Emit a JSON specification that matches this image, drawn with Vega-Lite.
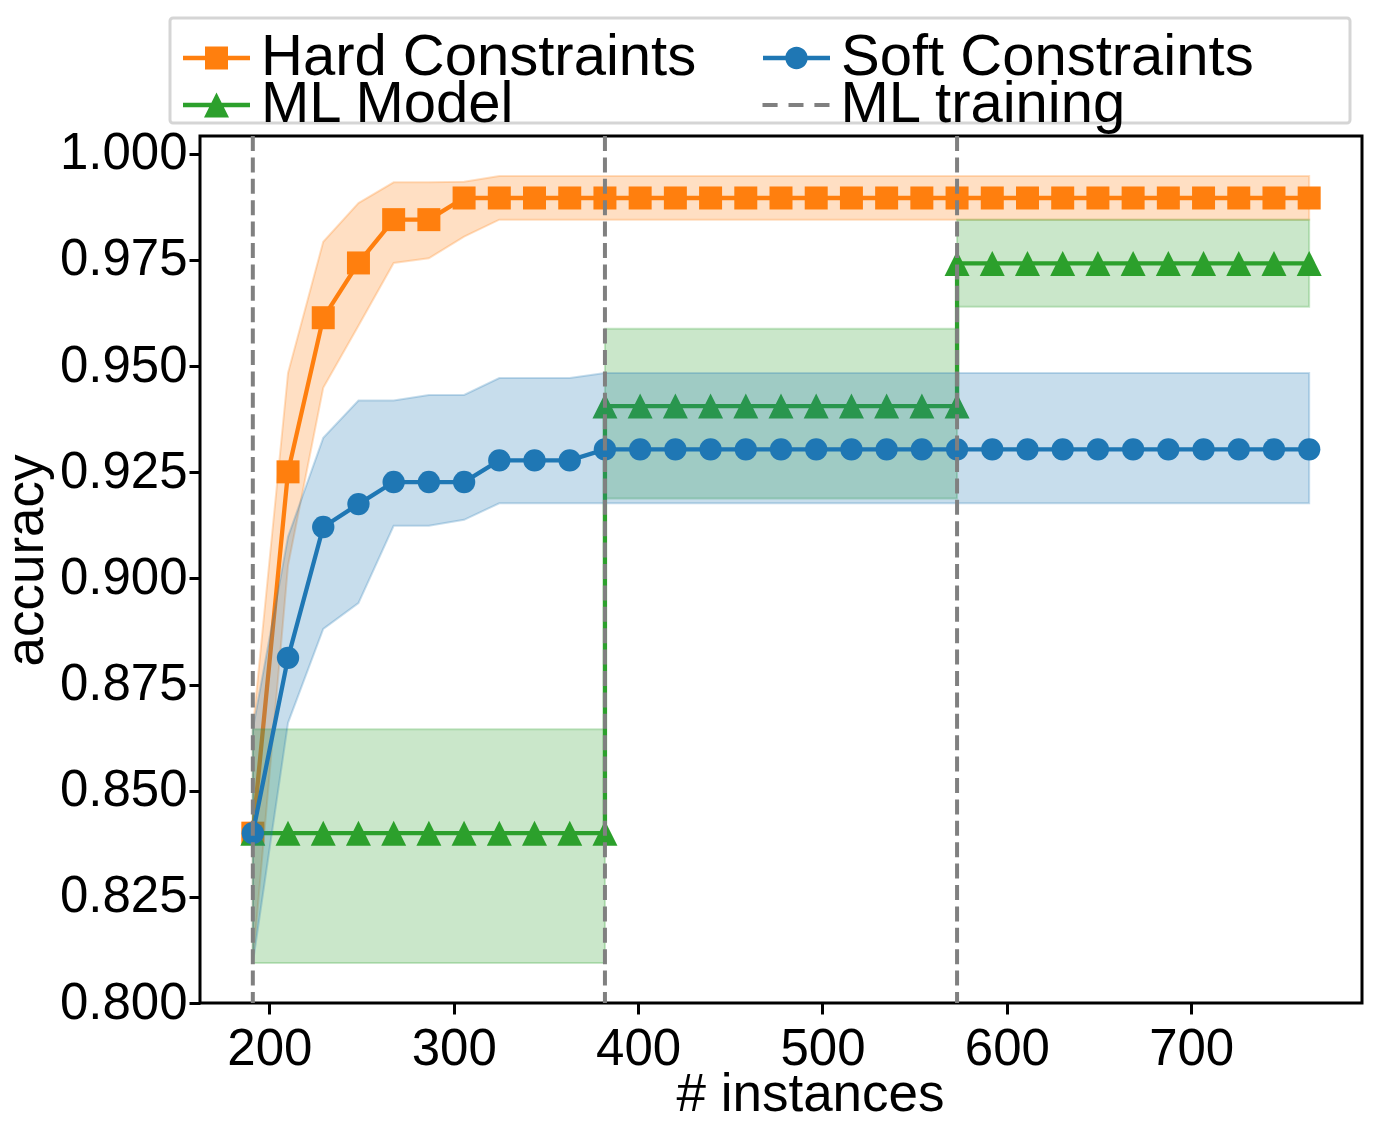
{
  "$schema": "https://vega.github.io/schema/vega-lite/v6.json",
  "width": 1162,
  "height": 867,
  "autosize": {"type": "none"},
  "padding": {"left": 200, "top": 136, "right": 18, "bottom": 125},
  "background": "white",
  "resolve": {"scale": {"color": "independent", "shape": "independent"}},
  "config": {
    "view": {"stroke": "black", "strokeWidth": 3},
    "font": "Liberation Sans",
    "axis": {
      "grid": false, "domain": false, "ticks": true, "tickColor": "black", "tickWidth": 3, "tickSize": 11,
      "labelFont": "Liberation Sans", "labelFontSize": 51, "labelColor": "black", "labelFlush": false, "labelOverlap": false,
      "titleFont": "Liberation Sans", "titleFontSize": 53, "titleColor": "black", "titleFontWeight": "normal"
    },
    "legend": {
      "labelFont": "Liberation Sans", "labelFontSize": 58, "labelColor": "black", "labelLimit": 2000,
      "symbolSize": 1600, "symbolStrokeWidth": 0, "symbolOpacity": 1, "symbolOffset": 6.5, "labelOffset": 15.5,
      "rowPadding": 0
    }
  },
  "datasets": {
    "hard": [
      {"x":191.0,"y":0.84,"lo":0.8094,"hi":0.8645},
      {"x":210.1,"y":0.9251,"lo":0.903,"hi":0.9484},
      {"x":229.2,"y":0.9614,"lo":0.9449,"hi":0.9793},
      {"x":248.3,"y":0.9743,"lo":0.9595,"hi":0.9884},
      {"x":267.4,"y":0.9845,"lo":0.9743,"hi":0.9933},
      {"x":286.5,"y":0.9845,"lo":0.9754,"hi":0.9933},
      {"x":305.6,"y":0.9896,"lo":0.9805,"hi":0.9934},
      {"x":324.7,"y":0.9896,"lo":0.9845,"hi":0.9948},
      {"x":343.8,"y":0.9896,"lo":0.9845,"hi":0.9948},
      {"x":362.9,"y":0.9896,"lo":0.9845,"hi":0.9948},
      {"x":382.0,"y":0.9896,"lo":0.9845,"hi":0.9948},
      {"x":401.1,"y":0.9896,"lo":0.9845,"hi":0.9948},
      {"x":420.2,"y":0.9896,"lo":0.9845,"hi":0.9948},
      {"x":439.3,"y":0.9896,"lo":0.9845,"hi":0.9948},
      {"x":458.4,"y":0.9896,"lo":0.9845,"hi":0.9948},
      {"x":477.5,"y":0.9896,"lo":0.9845,"hi":0.9948},
      {"x":496.6,"y":0.9896,"lo":0.9845,"hi":0.9948},
      {"x":515.7,"y":0.9896,"lo":0.9845,"hi":0.9948},
      {"x":534.8,"y":0.9896,"lo":0.9845,"hi":0.9948},
      {"x":553.9,"y":0.9896,"lo":0.9845,"hi":0.9948},
      {"x":573.0,"y":0.9896,"lo":0.9845,"hi":0.9948},
      {"x":592.1,"y":0.9896,"lo":0.9845,"hi":0.9948},
      {"x":611.2,"y":0.9896,"lo":0.9845,"hi":0.9948},
      {"x":630.3,"y":0.9896,"lo":0.9845,"hi":0.9948},
      {"x":649.4,"y":0.9896,"lo":0.9845,"hi":0.9948},
      {"x":668.5,"y":0.9896,"lo":0.9845,"hi":0.9948},
      {"x":687.6,"y":0.9896,"lo":0.9845,"hi":0.9948},
      {"x":706.7,"y":0.9896,"lo":0.9845,"hi":0.9948},
      {"x":725.8,"y":0.9896,"lo":0.9845,"hi":0.9948},
      {"x":744.9,"y":0.9896,"lo":0.9845,"hi":0.9948},
      {"x":764.0,"y":0.9896,"lo":0.9845,"hi":0.9948}
    ],
    "soft": [
      {"x":191.0,"y":0.84,"lo":0.8094,"hi":0.8645},
      {"x":210.1,"y":0.8813,"lo":0.866,"hi":0.9098},
      {"x":229.2,"y":0.9121,"lo":0.8881,"hi":0.9331},
      {"x":248.3,"y":0.9175,"lo":0.8942,"hi":0.9419},
      {"x":267.4,"y":0.9227,"lo":0.9124,"hi":0.9419},
      {"x":286.5,"y":0.9227,"lo":0.9124,"hi":0.9432},
      {"x":305.6,"y":0.9227,"lo":0.9138,"hi":0.9432},
      {"x":324.7,"y":0.9278,"lo":0.9177,"hi":0.9472},
      {"x":343.8,"y":0.9278,"lo":0.9177,"hi":0.9472},
      {"x":362.9,"y":0.9278,"lo":0.9177,"hi":0.9472},
      {"x":382.0,"y":0.9304,"lo":0.9177,"hi":0.9484},
      {"x":401.1,"y":0.9304,"lo":0.9177,"hi":0.9484},
      {"x":420.2,"y":0.9304,"lo":0.9177,"hi":0.9484},
      {"x":439.3,"y":0.9304,"lo":0.9177,"hi":0.9484},
      {"x":458.4,"y":0.9304,"lo":0.9177,"hi":0.9484},
      {"x":477.5,"y":0.9304,"lo":0.9177,"hi":0.9484},
      {"x":496.6,"y":0.9304,"lo":0.9177,"hi":0.9484},
      {"x":515.7,"y":0.9304,"lo":0.9177,"hi":0.9484},
      {"x":534.8,"y":0.9304,"lo":0.9177,"hi":0.9484},
      {"x":553.9,"y":0.9304,"lo":0.9177,"hi":0.9484},
      {"x":573.0,"y":0.9304,"lo":0.9177,"hi":0.9484},
      {"x":592.1,"y":0.9304,"lo":0.9177,"hi":0.9484},
      {"x":611.2,"y":0.9304,"lo":0.9177,"hi":0.9484},
      {"x":630.3,"y":0.9304,"lo":0.9177,"hi":0.9484},
      {"x":649.4,"y":0.9304,"lo":0.9177,"hi":0.9484},
      {"x":668.5,"y":0.9304,"lo":0.9177,"hi":0.9484},
      {"x":687.6,"y":0.9304,"lo":0.9177,"hi":0.9484},
      {"x":706.7,"y":0.9304,"lo":0.9177,"hi":0.9484},
      {"x":725.8,"y":0.9304,"lo":0.9177,"hi":0.9484},
      {"x":744.9,"y":0.9304,"lo":0.9177,"hi":0.9484},
      {"x":764.0,"y":0.9304,"lo":0.9177,"hi":0.9484}
    ],
    "ml": [
      {"idx":0,"seg":1,"x":191.0,"y":0.84,"lo":0.8094,"hi":0.8645},
      {"idx":1,"seg":1,"x":210.1,"y":0.84,"lo":0.8094,"hi":0.8645},
      {"idx":2,"seg":1,"x":229.2,"y":0.84,"lo":0.8094,"hi":0.8645},
      {"idx":3,"seg":1,"x":248.3,"y":0.84,"lo":0.8094,"hi":0.8645},
      {"idx":4,"seg":1,"x":267.4,"y":0.84,"lo":0.8094,"hi":0.8645},
      {"idx":5,"seg":1,"x":286.5,"y":0.84,"lo":0.8094,"hi":0.8645},
      {"idx":6,"seg":1,"x":305.6,"y":0.84,"lo":0.8094,"hi":0.8645},
      {"idx":7,"seg":1,"x":324.7,"y":0.84,"lo":0.8094,"hi":0.8645},
      {"idx":8,"seg":1,"x":343.8,"y":0.84,"lo":0.8094,"hi":0.8645},
      {"idx":9,"seg":1,"x":362.9,"y":0.84,"lo":0.8094,"hi":0.8645},
      {"idx":10,"seg":1,"x":382.0,"y":0.84,"lo":0.8094,"hi":0.8645},
      {"idx":11,"seg":2,"x":382.0,"y":0.9406,"lo":0.9188,"hi":0.9588},
      {"idx":12,"seg":2,"x":401.1,"y":0.9406,"lo":0.9188,"hi":0.9588},
      {"idx":13,"seg":2,"x":420.2,"y":0.9406,"lo":0.9188,"hi":0.9588},
      {"idx":14,"seg":2,"x":439.3,"y":0.9406,"lo":0.9188,"hi":0.9588},
      {"idx":15,"seg":2,"x":458.4,"y":0.9406,"lo":0.9188,"hi":0.9588},
      {"idx":16,"seg":2,"x":477.5,"y":0.9406,"lo":0.9188,"hi":0.9588},
      {"idx":17,"seg":2,"x":496.6,"y":0.9406,"lo":0.9188,"hi":0.9588},
      {"idx":18,"seg":2,"x":515.7,"y":0.9406,"lo":0.9188,"hi":0.9588},
      {"idx":19,"seg":2,"x":534.8,"y":0.9406,"lo":0.9188,"hi":0.9588},
      {"idx":20,"seg":2,"x":553.9,"y":0.9406,"lo":0.9188,"hi":0.9588},
      {"idx":21,"seg":2,"x":573.0,"y":0.9406,"lo":0.9188,"hi":0.9588},
      {"idx":22,"seg":3,"x":573.0,"y":0.9742,"lo":0.964,"hi":0.9845},
      {"idx":23,"seg":3,"x":592.1,"y":0.9742,"lo":0.964,"hi":0.9845},
      {"idx":24,"seg":3,"x":611.2,"y":0.9742,"lo":0.964,"hi":0.9845},
      {"idx":25,"seg":3,"x":630.3,"y":0.9742,"lo":0.964,"hi":0.9845},
      {"idx":26,"seg":3,"x":649.4,"y":0.9742,"lo":0.964,"hi":0.9845},
      {"idx":27,"seg":3,"x":668.5,"y":0.9742,"lo":0.964,"hi":0.9845},
      {"idx":28,"seg":3,"x":687.6,"y":0.9742,"lo":0.964,"hi":0.9845},
      {"idx":29,"seg":3,"x":706.7,"y":0.9742,"lo":0.964,"hi":0.9845},
      {"idx":30,"seg":3,"x":725.8,"y":0.9742,"lo":0.964,"hi":0.9845},
      {"idx":31,"seg":3,"x":744.9,"y":0.9742,"lo":0.964,"hi":0.9845},
      {"idx":32,"seg":3,"x":764.0,"y":0.9742,"lo":0.964,"hi":0.9845}
    ],
    "train": [{"x":191.0},{"x":382.0},{"x":573.0}],
    "legendA": [
      {"name":"Hard Constraints","x":1000,"y":0.9},
      {"name":"Soft Constraints","x":1000,"y":0.9}
    ],
    "legendB": [
      {"name":"ML Model","x":1000,"y":0.9},
      {"name":"ML training","x":1000,"y":0.9}
    ]
  },
  "layer": [
    {
      "data": {"name": "hard"},
      "mark": {"type": "area", "fill": "#ff7f0e", "fillOpacity": 0.25, "stroke": "#ff7f0e", "strokeOpacity": 0.25, "strokeWidth": 2},
      "encoding": {
        "x": {"field": "x", "type": "quantitative", "title": "# instances", "scale": {"domain": [162.35, 792.65], "nice": false, "zero": false},
          "axis": {"title": "# instances", "values": [200,300,400,500,600,700], "format": "d", "labelPadding": 10, "titleX": 610, "titleY": 107, "titleBaseline": "alphabetic", "titleAlign": "center"}},
        "y": {"field": "lo", "type": "quantitative", "title": "accuracy", "scale": {"domain": [0.8, 1.0042], "nice": false, "zero": false},
          "axis": {"title": "accuracy", "values": [0.8,0.825,0.85,0.875,0.9,0.925,0.95,0.975,1.0], "format": ".3f", "labelPadding": 2, "titleX": -158, "titleY": 424, "titleAngle": -90, "titleBaseline": "alphabetic", "titleAlign": "center"}},
        "y2": {"field": "hi"}
      }
    },
    {
      "data": {"name": "hard"},
      "mark": {"type": "line", "color": "#ff7f0e", "strokeWidth": 4.3},
      "encoding": {
        "x": {"field": "x", "type": "quantitative", "title": "# instances", "scale": {"domain": [162.35, 792.65], "nice": false, "zero": false},
          "axis": {"title": "# instances", "values": [200,300,400,500,600,700], "format": "d", "labelPadding": 10, "titleX": 610, "titleY": 107, "titleBaseline": "alphabetic", "titleAlign": "center"}},
        "y": {"field": "y", "type": "quantitative", "title": "accuracy", "scale": {"domain": [0.8, 1.0042], "nice": false, "zero": false},
          "axis": {"title": "accuracy", "values": [0.8,0.825,0.85,0.875,0.9,0.925,0.95,0.975,1.0], "format": ".3f", "labelPadding": 2, "titleX": -158, "titleY": 424, "titleAngle": -90, "titleBaseline": "alphabetic", "titleAlign": "center"}}
      }
    },
    {
      "data": {"name": "hard"},
      "mark": {"type": "point", "shape": "square", "filled": true, "size": 529, "color": "#ff7f0e", "opacity": 1, "strokeWidth": 0},
      "encoding": {
        "x": {"field": "x", "type": "quantitative", "title": "# instances", "scale": {"domain": [162.35, 792.65], "nice": false, "zero": false},
          "axis": {"title": "# instances", "values": [200,300,400,500,600,700], "format": "d", "labelPadding": 10, "titleX": 610, "titleY": 107, "titleBaseline": "alphabetic", "titleAlign": "center"}},
        "y": {"field": "y", "type": "quantitative", "title": "accuracy", "scale": {"domain": [0.8, 1.0042], "nice": false, "zero": false},
          "axis": {"title": "accuracy", "values": [0.8,0.825,0.85,0.875,0.9,0.925,0.95,0.975,1.0], "format": ".3f", "labelPadding": 2, "titleX": -158, "titleY": 424, "titleAngle": -90, "titleBaseline": "alphabetic", "titleAlign": "center"}}
      }
    },
    {
      "data": {"name": "ml"},
      "mark": {"type": "area", "fill": "#2ca02c", "fillOpacity": 0.25, "stroke": "#2ca02c", "strokeOpacity": 0.25, "strokeWidth": 2},
      "encoding": {
        "x": {"field": "x", "type": "quantitative", "title": "# instances", "scale": {"domain": [162.35, 792.65], "nice": false, "zero": false},
          "axis": {"title": "# instances", "values": [200,300,400,500,600,700], "format": "d", "labelPadding": 10, "titleX": 610, "titleY": 107, "titleBaseline": "alphabetic", "titleAlign": "center"}},
        "y": {"field": "lo", "type": "quantitative", "title": "accuracy", "scale": {"domain": [0.8, 1.0042], "nice": false, "zero": false},
          "axis": {"title": "accuracy", "values": [0.8,0.825,0.85,0.875,0.9,0.925,0.95,0.975,1.0], "format": ".3f", "labelPadding": 2, "titleX": -158, "titleY": 424, "titleAngle": -90, "titleBaseline": "alphabetic", "titleAlign": "center"}},
        "y2": {"field": "hi"},
        "detail": {"field": "seg", "type": "nominal"}
      }
    },
    {
      "data": {"name": "ml"},
      "mark": {"type": "line", "color": "#2ca02c", "strokeWidth": 4.3},
      "encoding": {
        "x": {"field": "x", "type": "quantitative", "title": "# instances", "scale": {"domain": [162.35, 792.65], "nice": false, "zero": false},
          "axis": {"title": "# instances", "values": [200,300,400,500,600,700], "format": "d", "labelPadding": 10, "titleX": 610, "titleY": 107, "titleBaseline": "alphabetic", "titleAlign": "center"}},
        "y": {"field": "y", "type": "quantitative", "title": "accuracy", "scale": {"domain": [0.8, 1.0042], "nice": false, "zero": false},
          "axis": {"title": "accuracy", "values": [0.8,0.825,0.85,0.875,0.9,0.925,0.95,0.975,1.0], "format": ".3f", "labelPadding": 2, "titleX": -158, "titleY": 424, "titleAngle": -90, "titleBaseline": "alphabetic", "titleAlign": "center"}},
        "order": {"field": "idx", "type": "quantitative"}
      }
    },
    {
      "data": {"name": "ml"},
      "mark": {"type": "point", "shape": "M0,-1L1,1L-1,1Z", "filled": true, "size": 625, "color": "#2ca02c", "opacity": 1, "strokeWidth": 0},
      "encoding": {
        "x": {"field": "x", "type": "quantitative", "title": "# instances", "scale": {"domain": [162.35, 792.65], "nice": false, "zero": false},
          "axis": {"title": "# instances", "values": [200,300,400,500,600,700], "format": "d", "labelPadding": 10, "titleX": 610, "titleY": 107, "titleBaseline": "alphabetic", "titleAlign": "center"}},
        "y": {"field": "y", "type": "quantitative", "title": "accuracy", "scale": {"domain": [0.8, 1.0042], "nice": false, "zero": false},
          "axis": {"title": "accuracy", "values": [0.8,0.825,0.85,0.875,0.9,0.925,0.95,0.975,1.0], "format": ".3f", "labelPadding": 2, "titleX": -158, "titleY": 424, "titleAngle": -90, "titleBaseline": "alphabetic", "titleAlign": "center"}}
      }
    },
    {
      "data": {"name": "soft"},
      "mark": {"type": "area", "fill": "#1f77b4", "fillOpacity": 0.25, "stroke": "#1f77b4", "strokeOpacity": 0.25, "strokeWidth": 2},
      "encoding": {
        "x": {"field": "x", "type": "quantitative", "title": "# instances", "scale": {"domain": [162.35, 792.65], "nice": false, "zero": false},
          "axis": {"title": "# instances", "values": [200,300,400,500,600,700], "format": "d", "labelPadding": 10, "titleX": 610, "titleY": 107, "titleBaseline": "alphabetic", "titleAlign": "center"}},
        "y": {"field": "lo", "type": "quantitative", "title": "accuracy", "scale": {"domain": [0.8, 1.0042], "nice": false, "zero": false},
          "axis": {"title": "accuracy", "values": [0.8,0.825,0.85,0.875,0.9,0.925,0.95,0.975,1.0], "format": ".3f", "labelPadding": 2, "titleX": -158, "titleY": 424, "titleAngle": -90, "titleBaseline": "alphabetic", "titleAlign": "center"}},
        "y2": {"field": "hi"}
      }
    },
    {
      "data": {"name": "soft"},
      "mark": {"type": "line", "color": "#1f77b4", "strokeWidth": 4.3},
      "encoding": {
        "x": {"field": "x", "type": "quantitative", "title": "# instances", "scale": {"domain": [162.35, 792.65], "nice": false, "zero": false},
          "axis": {"title": "# instances", "values": [200,300,400,500,600,700], "format": "d", "labelPadding": 10, "titleX": 610, "titleY": 107, "titleBaseline": "alphabetic", "titleAlign": "center"}},
        "y": {"field": "y", "type": "quantitative", "title": "accuracy", "scale": {"domain": [0.8, 1.0042], "nice": false, "zero": false},
          "axis": {"title": "accuracy", "values": [0.8,0.825,0.85,0.875,0.9,0.925,0.95,0.975,1.0], "format": ".3f", "labelPadding": 2, "titleX": -158, "titleY": 424, "titleAngle": -90, "titleBaseline": "alphabetic", "titleAlign": "center"}}
      }
    },
    {
      "data": {"name": "soft"},
      "mark": {"type": "point", "shape": "circle", "filled": true, "size": 500, "color": "#1f77b4", "opacity": 1, "strokeWidth": 0},
      "encoding": {
        "x": {"field": "x", "type": "quantitative", "title": "# instances", "scale": {"domain": [162.35, 792.65], "nice": false, "zero": false},
          "axis": {"title": "# instances", "values": [200,300,400,500,600,700], "format": "d", "labelPadding": 10, "titleX": 610, "titleY": 107, "titleBaseline": "alphabetic", "titleAlign": "center"}},
        "y": {"field": "y", "type": "quantitative", "title": "accuracy", "scale": {"domain": [0.8, 1.0042], "nice": false, "zero": false},
          "axis": {"title": "accuracy", "values": [0.8,0.825,0.85,0.875,0.9,0.925,0.95,0.975,1.0], "format": ".3f", "labelPadding": 2, "titleX": -158, "titleY": 424, "titleAngle": -90, "titleBaseline": "alphabetic", "titleAlign": "center"}}
      }
    },
    {
      "data": {"name": "train"},
      "mark": {"type": "rule", "color": "#808080", "strokeWidth": 4, "strokeDash": [15, 6.4]},
      "encoding": {
        "x": {"field": "x", "type": "quantitative", "title": "# instances", "scale": {"domain": [162.35, 792.65], "nice": false, "zero": false},
          "axis": {"title": "# instances", "values": [200,300,400,500,600,700], "format": "d", "labelPadding": 10, "titleX": 610, "titleY": 107, "titleBaseline": "alphabetic", "titleAlign": "center"}}
      }
    },
    {
      "data": {"name": "legendA"},
      "mark": {"type": "point", "filled": true, "opacity": 1, "clip": true, "strokeWidth": 0},
      "encoding": {
        "x": {"field": "x", "type": "quantitative", "title": "# instances", "scale": {"domain": [162.35, 792.65], "nice": false, "zero": false},
          "axis": {"title": "# instances", "values": [200,300,400,500,600,700], "format": "d", "labelPadding": 10, "titleX": 610, "titleY": 107, "titleBaseline": "alphabetic", "titleAlign": "center"}},
        "y": {"field": "y", "type": "quantitative", "title": "accuracy", "scale": {"domain": [0.8, 1.0042], "nice": false, "zero": false},
          "axis": {"title": "accuracy", "values": [0.8,0.825,0.85,0.875,0.9,0.925,0.95,0.975,1.0], "format": ".3f", "labelPadding": 2, "titleX": -158, "titleY": 424, "titleAngle": -90, "titleBaseline": "alphabetic", "titleAlign": "center"}},
        "color": {"field": "name", "type": "nominal",
          "scale": {"domain": ["Hard Constraints","Soft Constraints"], "range": ["#ff7f0e","#1f77b4"]},
          "legend": {"title": "\u00a0", "titleOrient": "right", "titleFontSize": 83, "titlePadding": 85, "titleAnchor": "start",
            "orient": "none", "legendX": -30, "legendY": -118, "columns": 2, "direction": "horizontal",
            "columnPadding": 64, "padding": 11,
            "strokeColor": "#d5d5d5", "fillColor": "white", "cornerRadius": 3,
            "encode": {"legend": {"update": {"strokeWidth": {"value": 3}}}}}},
        "shape": {"field": "name", "type": "nominal",
          "scale": {"domain": ["Hard Constraints","Soft Constraints"],
            "range": [
              "M-1.675,-0.107H1.675V0.107H-1.675Z M-0.575,-0.575H0.575V0.575H-0.575Z",
              "M-1.675,-0.107H1.675V0.107H-1.675Z M-0.56,0A0.56,0.56 0 1,1 0.56,0A0.56,0.56 0 1,1 -0.56,0Z"
            ]},
          "legend": {"title": "\u00a0"}}
      }
    },
    {
      "data": {"name": "legendB"},
      "mark": {"type": "point", "filled": true, "opacity": 1, "clip": true, "strokeWidth": 0},
      "encoding": {
        "x": {"field": "x", "type": "quantitative", "title": "# instances", "scale": {"domain": [162.35, 792.65], "nice": false, "zero": false},
          "axis": {"title": "# instances", "values": [200,300,400,500,600,700], "format": "d", "labelPadding": 10, "titleX": 610, "titleY": 107, "titleBaseline": "alphabetic", "titleAlign": "center"}},
        "y": {"field": "y", "type": "quantitative", "title": "accuracy", "scale": {"domain": [0.8, 1.0042], "nice": false, "zero": false},
          "axis": {"title": "accuracy", "values": [0.8,0.825,0.85,0.875,0.9,0.925,0.95,0.975,1.0], "format": ".3f", "labelPadding": 2, "titleX": -158, "titleY": 424, "titleAngle": -90, "titleBaseline": "alphabetic", "titleAlign": "center"}},
        "color": {"field": "name", "type": "nominal",
          "scale": {"domain": ["ML Model","ML training"], "range": ["#2ca02c","#808080"]},
          "legend": {"title": null, "orient": "none", "legendX": -19, "legendY": -60, "columns": 2, "direction": "horizontal",
            "columnPadding": 244.5, "padding": 0}},
        "shape": {"field": "name", "type": "nominal",
          "scale": {"domain": ["ML Model","ML training"],
            "range": [
              "M-1.675,-0.107H1.675V0.107H-1.675Z M0,-0.625L0.625,0.625L-0.625,0.625Z",
              "M-1.675,-0.1H-0.92V0.1H-1.675Z M-0.375,-0.1H0.375V0.1H-0.375Z M0.92,-0.1H1.675V0.1H0.92Z"
            ]},
          "legend": {"title": null}}
      }
    }
  ]
}
